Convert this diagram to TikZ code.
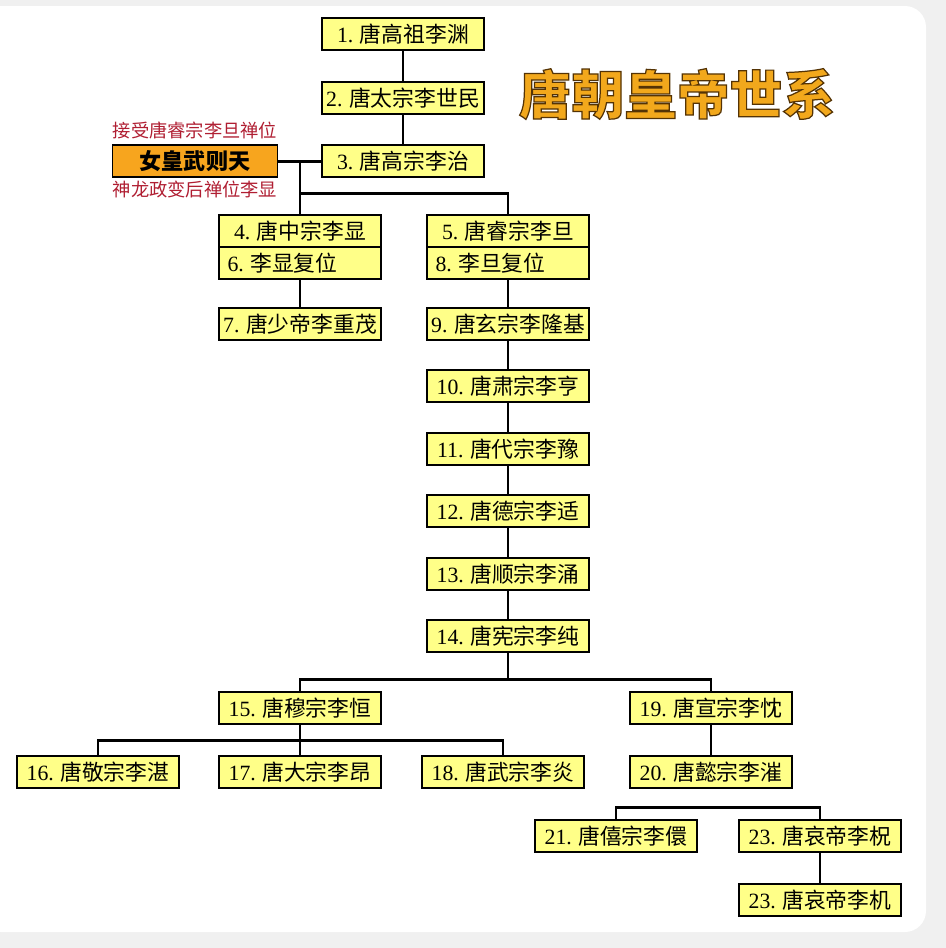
\documentclass[tikz,border=0pt]{standalone}
\usepackage{fontspec}
\setmainfont{Noto Sans CJK SC}
\newfontfamily\numf{Liberation Serif}
\usetikzlibrary{positioning,calc}
\definecolor{boxyellow}{HTML}{FFFF88}
\definecolor{wuorange}{HTML}{F7A51E}
\definecolor{notered}{HTML}{B01E32}
\definecolor{titlegold}{HTML}{F2A81C}
\newcommand{\tang}[2]{{\numf #1.}\hspace{0.3em}#2}
\newcommand{\rimtext}[1]{\special{pdf:literal direct 2 Tr 0.7 w 0.33 0.2 0.02 RG}#1\special{pdf:literal direct 0 Tr}}

\begin{document}
\begin{tikzpicture}[x=0.02cm, y=-0.02cm, node distance=5.7mm, line width=1.7pt,
  emp/.style={draw, line width=1.1pt, fill=boxyellow, minimum width=3.24cm, minimum height=0.64cm, inner sep=0pt, font=\fontsize{12.4}{14}\selectfont},
  low/.style={emp, text width=2.9cm, align=left, inner xsep=0.17cm},
  wu/.style={emp, fill=wuorange, minimum width=3.3cm, font=\fontsize{12.6}{14}\selectfont\bfseries},
  note/.style={text=notered, font=\fontsize{10.4}{12}\selectfont}]
  \useasboundingbox (0,0) rectangle (946,948);
  \fill[black!6] (0,0) rectangle (946,948);
  \fill[white, rounded corners=12pt] (-20,6) rectangle (926,932);

  \node[font=\fontsize{30}{32}\selectfont\bfseries, text=titlegold] (title) at (677,94) {\rimtext{唐朝皇帝世系}};

  % top of the line
  \node[emp] (1) at (403,34) {\tang{1}{唐高祖李渊}};
  \node[emp] (2) at (403,98) {\tang{2}{唐太宗李世民}};
  \node[emp] (3) at (403,161) {\tang{3}{唐高宗李治}};
  \node[wu] (wu) at (195,161) {女皇武则天};
  \node[note] (wua) at (195,130) {接受唐睿宗李旦禅位};
  \node[note] (wub) at (195,189) {神龙政变后禅位李显};

  \node[emp] (4) at (300,231) {\tang{4}{唐中宗李显}};
  \node[low] (6) at (300,263) {\tang{6}{李显复位}};
  \node[emp] (7) at (300,324) {\tang{7}{唐少帝李重茂}};
  \node[emp] (5) at (508,231) {\tang{5}{唐睿宗李旦}};
  \node[low] (8) at (508,263) {\tang{8}{李旦复位}};

  \node[emp] (9) at (508,324) {\tang{9}{唐玄宗李隆基}};
  \node[emp, below=of 9] (10) {\tang{10}{唐肃宗李亨}};
  \node[emp, below=of 10] (11) {\tang{11}{唐代宗李豫}};
  \node[emp, below=of 11] (12) {\tang{12}{唐德宗李适}};
  \node[emp, below=of 12] (13) {\tang{13}{唐顺宗李涌}};
  \node[emp, below=of 13] (14) {\tang{14}{唐宪宗李纯}};

  \node[emp] (15) at (300,708) {\tang{15}{唐穆宗李恒}};
  \node[emp] (16) at (98,772) {\tang{16}{唐敬宗李湛}};
  \node[emp] (17) at (300,772) {\tang{17}{唐大宗李昂}};
  \node[emp] (18) at (503,772) {\tang{18}{唐武宗李炎}};
  \node[emp] (19) at (711,708) {\tang{19}{唐宣宗李忱}};
  \node[emp] (20) at (711,772) {\tang{20}{唐懿宗李漼}};
  \node[emp] (21) at (616,836) {\tang{21}{唐僖宗李儇}};
  \node[emp] (23) at (820,836) {\tang{23}{唐哀帝李柷}};
  \node[emp] (24) at (820,900) {\tang{23}{唐哀帝李机}};

  % connectors
  \draw (1) -- (2);
  \draw (2) -- (3);
  \draw (wu) -- (3);
  \draw (4.north |- 3.west) -- (4.north);
  \draw (4.north |- 0,193) -| (5.north);
  \draw (6) -- (7);
  \draw (8) -- (9);
  \draw (9) -- (10);
  \draw (10) -- (11);
  \draw (11) -- (12);
  \draw (12) -- (13);
  \draw (13) -- (14);
  \draw (14.south) -- ++(0,26) coordinate (j14);
  \draw (15.north) |- (j14) -| (19.north);
  \draw (15) -- (17);
  \draw (16.north) |- ($(15.south)!0.5!(17.north)$) -| (18.north);
  \draw (19) -- (20);
  \draw (21.north) |- ($(20.south)!0.6!(20.south |- 21.north)$) -| (23.north);
  \draw (23) -- (24);
\end{tikzpicture}
\end{document}
